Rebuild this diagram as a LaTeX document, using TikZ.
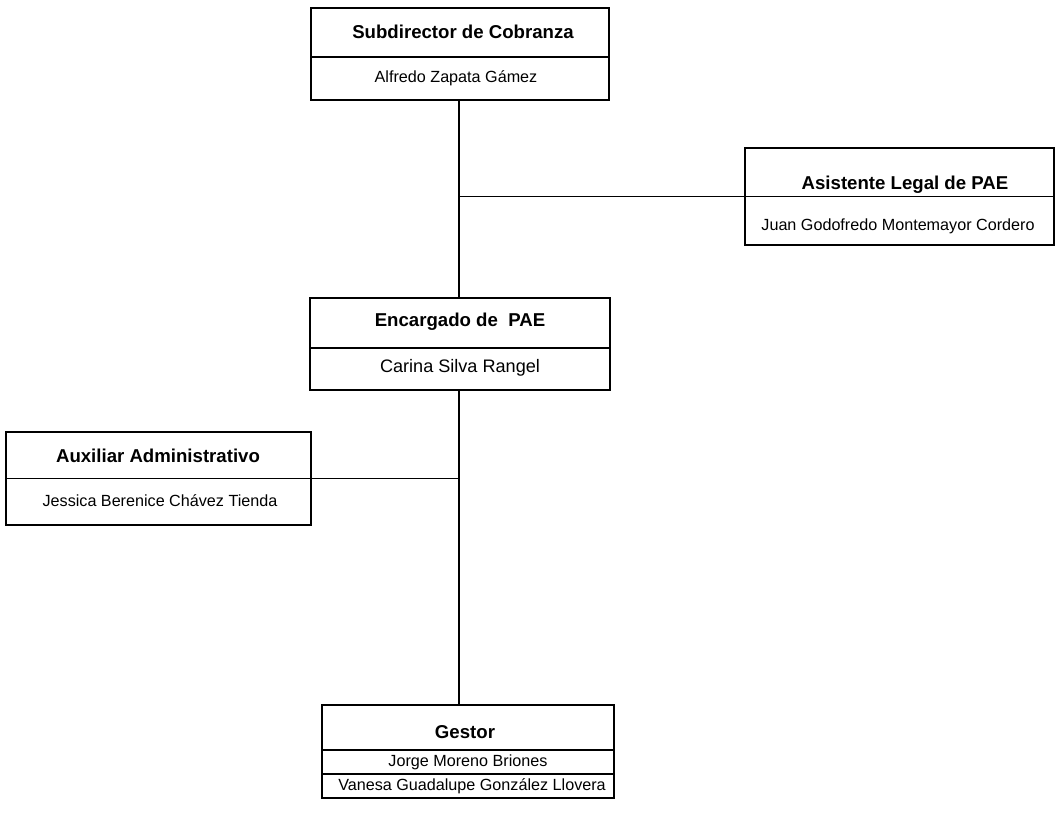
\documentclass[tikz,border=0pt]{standalone}
\usepackage{fontspec}
\setmainfont{Liberation Sans}
\usepackage{tikz}
\usetikzlibrary{calc}

\begin{document}
\begin{tikzpicture}[x=0.02cm, y=-0.02cm,
    caja/.style={rectangle, draw=black, line width=1pt, inner sep=0pt},
    linea/.style={draw=black, line width=1pt},
    titulo/.style={font=\fontsize{10.6}{12}\selectfont\bfseries, inner sep=0pt},
    nombre/.style={font=\fontsize{9.2}{11}\selectfont, inner sep=0pt},
]
\useasboundingbox (0,0) rectangle (1058,814);

% cajas
\node[caja, minimum width=5.96cm, minimum height=1.84cm] (sub) at (460,54) {};
\node[caja, minimum width=6.18cm, minimum height=1.94cm] (asi) at (899.5,196.5) {};
\node[caja, minimum width=6.0cm, minimum height=1.84cm] (enc) at (460,344) {};
\node[caja, minimum width=6.1cm, minimum height=1.86cm] (aux) at (158.5,478.5) {};
\node[caja, minimum width=5.84cm, minimum height=1.86cm] (ges) at (468,751.5) {};

% divisiones
\draw[linea] (sub.west |- 0,57) -- (sub.east |- 0,57);
\draw[linea] (asi.west) -- (asi.east);
\draw[linea] (enc.west |- 0,348) -- (enc.east |- 0,348);
\draw[linea] (aux.west) -- (aux.east);
\draw[linea] (ges.west |- 0,750) -- (ges.east |- 0,750);
\draw[linea] (ges.west |- 0,774) -- (ges.east |- 0,774);

% textos
\node[titulo] (subT) at (463,32) {Subdirector de Cobranza};
\node[nombre] (subN) at (456,78) {Alfredo Zapata Gámez};
\node[titulo] (asiT) at (905,185) {Asistente Legal de PAE};
\node[nombre] (asiN) at (898,226) {Juan Godofredo Montemayor Cordero};
\node[titulo] (encT) at (460,322) {Encargado de\ \ PAE};
\node[nombre, font=\fontsize{10.3}{12}\selectfont] (encN) at (460,368) {Carina Silva Rangel};
\node[titulo] (auxT) at (158,456) {Auxiliar Administrativo};
\node[nombre] (auxN) at (160,501) {Jessica Berenice Chávez Tienda};
\node[titulo] (gesT) at (465,732) {Gestor};
\node[nombre] (gesN1) at (468,762) {Jorge Moreno Briones};
\node[nombre] (gesN2) at (472,786) {Vanesa Guadalupe González Llovera};

% conectores
\draw[linea] (enc.north -| 459,0) -- (sub.south -| 459,0);
\draw[linea] (asi.west) -- (asi.west -| 459,0);
\draw[linea] (enc.south -| 459,0) -- (ges.north -| 459,0);
\draw[linea] (aux.east) -- (aux.east -| 459,0);
\end{tikzpicture}
\end{document}
